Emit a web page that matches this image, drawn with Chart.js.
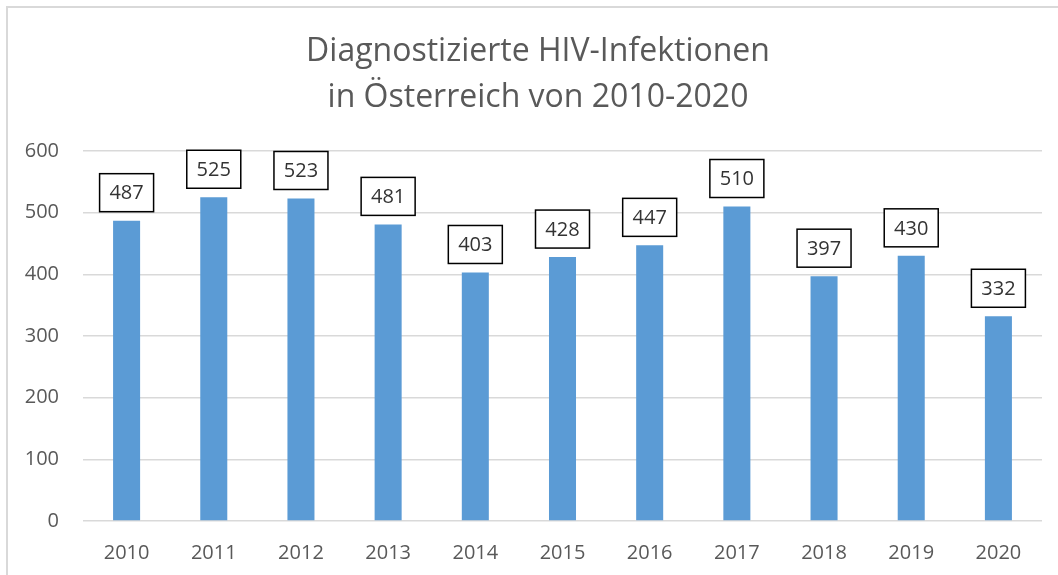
<!DOCTYPE html>
<html>
<head>
<meta charset="utf-8">
<script src="https://cdn.jsdelivr.net/npm/chart.js"></script>
<style>
    html, body { margin: 0; padding: 0; background: #fff; }
    #wrap { width: 1058px; height: 575px; position: relative; }
</style>
</head>
<body>
<div id="wrap"><canvas id="hivChart"></canvas></div>
<script>
// Daten
const years = ['2010', '2011', '2012', '2013', '2014', '2015', '2016', '2017', '2018', '2019', '2020'];
const infections = [487, 525, 523, 481, 403, 428, 447, 510, 397, 430, 332];
const yTicks = [0, 100, 200, 300, 400, 500, 600];
const titleLines = ['Diagnostizierte HIV-Infektionen', 'in Österreich von 2010-2020'];

const FONT = "'Open Sans', sans-serif";
const GREY = '#595959';

// Rahmen um das Diagramm (wie im Excel-Export)
const frame = {
    id: 'frame',
    beforeDraw(chart) {
        const ctx = chart.ctx;
        ctx.save();
        ctx.fillStyle = '#fff';
        ctx.fillRect(0, 0, chart.width, chart.height);
        ctx.strokeStyle = '#d9d9d9';
        ctx.lineWidth = 2;
        ctx.beginPath();
        ctx.moveTo(7, chart.height + 5);
        ctx.lineTo(7, 7);
        ctx.lineTo(chart.width + 5, 7);
        ctx.stroke();
        ctx.restore();
    }
};

// Titel: zentriert auf den gesamten Diagrammrahmen, nicht nur auf den Canvas
const boxTitle = {
    id: 'boxTitle',
    afterDraw(chart) {
        const ctx = chart.ctx;
        ctx.save();
        ctx.font = '32px ' + FONT;
        ctx.fillStyle = GREY;
        ctx.textAlign = 'center';
        ctx.textBaseline = 'alphabetic';
        ctx.fillText(titleLines[0], 538, 61);
        ctx.fillText(titleLines[1], 538, 107);
        ctx.restore();
    }
};

// Datenbeschriftungen mit Kasten
const boxLabels = {
    id: 'boxLabels',
    afterDatasetsDraw(chart) {
        const ctx = chart.ctx;
        const meta = chart.getDatasetMeta(0);
        ctx.save();
        ctx.font = '20px ' + FONT;
        ctx.textAlign = 'center';
        ctx.textBaseline = 'middle';
        meta.data.forEach((bar, i) => {
            const w = 54, h = 38;
            const x = bar.x - w / 2;
            const y = bar.y - 9 - h;
            ctx.fillStyle = '#fff';
            ctx.fillRect(x, y, w, h);
            ctx.strokeStyle = '#000';
            ctx.lineWidth = 1.5;
            ctx.strokeRect(x, y, w, h);
            ctx.fillStyle = '#333';
            ctx.fillText(String(infections[i]), bar.x, y + h / 2 + 1);
        });
        ctx.restore();
    }
};

new Chart(document.getElementById('hivChart'), {
    type: 'bar',
    data: {
        labels: years,
        datasets: [{
            data: infections,
            backgroundColor: '#5b9bd5',
            borderWidth: 0,
            categoryPercentage: 1,
            barPercentage: 0.31
        }]
    },
    options: {
        responsive: true,
        maintainAspectRatio: false,
        animation: false,
        layout: { padding: { left: 0, right: 16, top: 151, bottom: 0 } },
        plugins: {
            legend: { display: false },
            tooltip: { enabled: false },
            title: { display: false }
        },
        scales: {
            x: {
                grid: { display: false },
                border: { display: false },
                ticks: { color: GREY, font: { family: FONT, size: 20 }, padding: 12 },
                afterFit(scale) { scale.height = 54; }
            },
            y: {
                min: 0,
                max: 600,
                afterBuildTicks(scale) { scale.ticks = yTicks.map(v => ({ value: v })); },
                grid: { color: '#d9d9d9', lineWidth: 1.5, drawTicks: false },
                border: { display: false },
                ticks: { color: GREY, font: { family: FONT, size: 20 }, padding: 24 },
                afterFit(scale) { scale.width = 83; }
            }
        }
    },
    plugins: [frame, boxTitle, boxLabels]
});
</script>
</body>
</html>
